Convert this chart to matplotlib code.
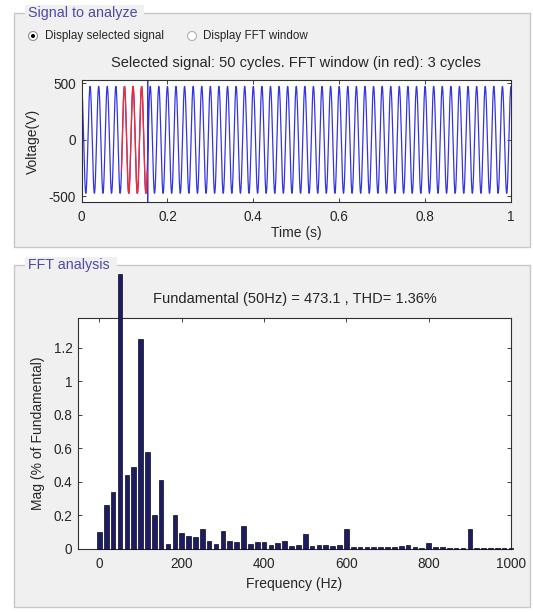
import numpy as np
import matplotlib
matplotlib.use("Agg")
import matplotlib.pyplot as plt
from matplotlib.patches import Rectangle, Circle

plt.rcParams['font.family'] = ['Liberation Sans', 'DejaVu Sans']
plt.rcParams['axes.unicode_minus'] = False

# signal parameters
fund_freq = 50.0          # Hz
fund_amp = 473.1          # V
sig_duration = 1.0        # s, 50 cycles
win_start = 0.093         # s, FFT window (in red)
win_end = 0.153           # s, 3 cycles
spike_time = 0.154        # s, vertical transient line
spike_values = [540, -560]

# FFT bars: bin spacing 50/3 Hz
bin_step = 50.0 / 3.0
mag_values = [0.10, 0.26, 0.34, 1.64, 0.44, 0.49, 1.25, 0.58, 0.20, 0.41,
              0.03, 0.20, 0.095, 0.08, 0.07, 0.12, 0.05, 0.03, 0.11, 0.05,
              0.04, 0.14, 0.03, 0.04, 0.04, 0.025, 0.035, 0.045, 0.015, 0.025,
              0.09, 0.02, 0.025, 0.025, 0.015, 0.025, 0.12, 0.01, 0.01, 0.01,
              0.01, 0.01, 0.01, 0.01, 0.015, 0.025, 0.01, 0.005, 0.035, 0.01,
              0.01, 0.005, 0.005, 0.005, 0.12, 0.005, 0.005, 0.005, 0.005, 0.005,
              0.005]
freqs = np.arange(len(mag_values)) * bin_step

time_ticks = [0, 0.2, 0.4, 0.6, 0.8, 1]
time_ticklabels = ["0", "0.2", "0.4", "0.6", "0.8", "1"]
volt_ticks = [-500, 0, 500]
freq_ticks = [0, 200, 400, 600, 800, 1000]
mag_ticks = [0, 0.2, 0.4, 0.6, 0.8, 1, 1.2]
mag_ticklabels = ["0", "0.2", "0.4", "0.6", "0.8", "1", "1.2"]

W, H = 533, 612
fig = plt.figure(figsize=(W / 100, H / 100), dpi=100)
fig.patch.set_facecolor("white")

# background layer in pixel coordinates (panels, radio buttons)
bg = fig.add_axes([0, 0, 1, 1])
bg.set_xlim(0, W)
bg.set_ylim(H, 0)
bg.axis("off")

panel_col = "#f0f0f0"
frame_col = "#c8c8c8"
txt_col = "#262626"
bg.add_patch(Rectangle((14, 13), 516, 234, facecolor=panel_col, edgecolor=frame_col, lw=1))
bg.add_patch(Rectangle((14, 265), 516, 342, facecolor=panel_col, edgecolor=frame_col, lw=1))
bg.add_patch(Rectangle((25, 5), 119, 16, facecolor=panel_col, edgecolor="none"))
bg.add_patch(Rectangle((25, 257), 92, 16, facecolor=panel_col, edgecolor="none"))
bg.text(28, 13, "Signal to analyze", color="#4a4aa8", fontsize=10.3, va="center", ha="left")
bg.text(28, 265, "FFT analysis", color="#4a4aa8", fontsize=10.3, va="center", ha="left")

bg.add_patch(Circle((33, 36), 4.5, facecolor="white", edgecolor="#909090", lw=0.8))
bg.add_patch(Circle((33, 36), 2.0, facecolor="black", edgecolor="none"))
bg.text(45, 36.5, "Display selected signal", fontsize=8.4, va="center", ha="left", color=txt_col)
bg.add_patch(Circle((192, 36), 4.5, facecolor="white", edgecolor="#b0b0b0", lw=0.8))
bg.text(203, 36.5, "Display FFT window", fontsize=8.4, va="center", ha="left", color=txt_col)


def px_axes(left, top, right, bottom):
    return fig.add_axes([left / W, 1 - bottom / H, (right - left) / W, (bottom - top) / H])


def matlab_style(ax):
    ax.tick_params(direction="in", top=True, right=True, length=3, width=0.6,
                   labelsize=9.8, colors=txt_col)
    ax.tick_params(axis="x", pad=6)
    ax.tick_params(axis="y", pad=4)
    for s in ax.spines.values():
        s.set_linewidth(0.8)
        s.set_color("#303030")


# signal plot
ax1 = px_axes(81.5, 80, 511, 202)
t = np.linspace(0, sig_duration, 6001)
v = fund_amp * np.cos(2 * np.pi * fund_freq * t)
ins = np.searchsorted(t, spike_time)
t_b = np.insert(t, ins, [spike_time, spike_time])
v_b = np.insert(v, ins, spike_values)
ax1.plot(t_b, v_b, color="#3535e0", lw=0.9)
win = (t >= win_start) & (t <= win_end)
ax1.plot(t[win], v[win], color="#ff2828", lw=0.9)
ax1.set_xlim(0, sig_duration)
ax1.set_ylim(-550, 530)
ax1.set_xticks(time_ticks)
ax1.set_xticklabels(time_ticklabels)
ax1.set_yticks(volt_ticks)
ax1.set_title("Selected signal: 50 cycles. FFT window (in red): 3 cycles",
              fontsize=10.5, pad=9, color=txt_col)
ax1.set_xlabel("Time (s)", fontsize=10, labelpad=1, color=txt_col)
ax1.set_ylabel("Voltage(V)", fontsize=10, labelpad=6, color=txt_col)
matlab_style(ax1)

# FFT plot
ax2 = px_axes(78, 318, 511, 549)
ax2.bar(freqs, mag_values, width=0.68 * bin_step, color="#1c1c62",
        edgecolor="#0a0a20", linewidth=0.5, clip_on=False, zorder=3)
ax2.set_xlim(-52, 1000)
ax2.set_ylim(0, 1.378)
ax2.set_xticks(freq_ticks)
ax2.set_yticks(mag_ticks)
ax2.set_yticklabels(mag_ticklabels)
ax2.set_title("Fundamental (50Hz) = 473.1 , THD= 1.36%", fontsize=10.5, pad=11,
              color=txt_col)
ax2.set_xlabel("Frequency (Hz)", fontsize=10, labelpad=4, color=txt_col)
ax2.set_ylabel("Mag (% of Fundamental)", fontsize=10, labelpad=6, color=txt_col)
matlab_style(ax2)

fig.savefig("out.png", dpi=100, facecolor=fig.get_facecolor())
